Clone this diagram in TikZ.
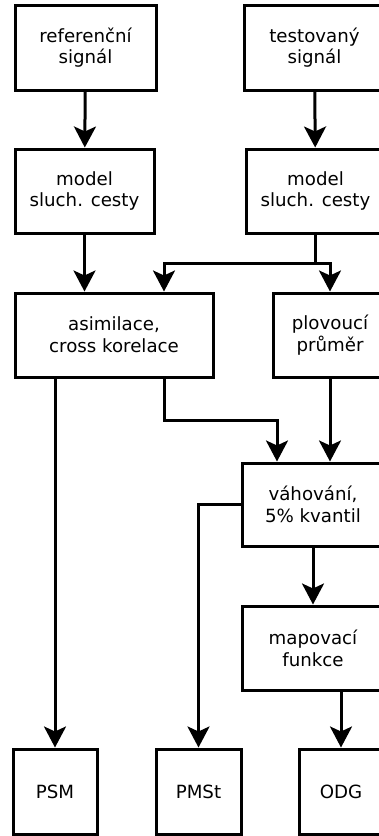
\documentclass[tikz,border=0pt]{standalone}
\usepackage{fontspec}
\setmainfont{DejaVu Sans}
\usepackage{tikz}
\usetikzlibrary{arrows.meta,positioning,calc}
\tikzset{
  block/.style={draw=black,line width=3pt,fill=white,
    minimum height=84pt,align=center,inner sep=0pt,
    font=\fontsize{18.2}{21.7}\selectfont},
  outblock/.style={block,minimum width=84pt,minimum height=85pt},
  flowarrow/.style={-{Stealth[length=21pt,width=22pt,inset=5pt]},line width=3pt,draw=black}
}
\begin{document}
\begin{tikzpicture}[x=1pt,y=-1pt]
\useasboundingbox (0,0) rectangle (378,836);
% inputs
\node[block,minimum width=141pt,minimum height=85pt] (ref) at (85.5,47.5) {referenční\\signál};
\node[block,minimum width=141pt,minimum height=85pt] (test) at (314.5,47.5) {testovaný\\signál};
% ear models
\node[block,minimum width=139pt] (model1) at (84.5,191) {model\\sluch. cesty};
\node[block,minimum width=139pt] (model2) at (315.5,191) {model\\sluch. cesty};
% processing
\node[block,minimum width=198pt] (asim) at (114,335) {asimilace,\\cross korelace};
\node[block,minimum width=114pt] (plov) at (330,335) {plovoucí\\průměr};
\node[block,minimum width=142pt,minimum height=83pt] (vah) at (313,504.5) {váhování,\\5\% kvantil};
\node[block,minimum width=142pt] (map) at (313,648) {mapovací\\funkce};
% outputs
\node[outblock] (psm) at (55,791.5) {PSM};
\node[outblock,minimum width=85pt] (pmst) at (198.5,791.5) {PMSt};
\node[outblock] (odg) at (341,791.5) {ODG};
\coordinate (split) at (315.5,263);
\coordinate (bend) at (164,420);
\draw[flowarrow] (ref) -- (model1);
\draw[flowarrow] (test) -- (model2);
\draw[flowarrow] (model1.south) -- (model1.south |- asim.north);
\draw[flowarrow] (model2.south) -- (split) -| ([xshift=50pt]asim.north);
\draw[flowarrow] (split) -| (plov.north);
\draw[flowarrow] (asim.south -| psm.north) -- (psm.north);
\draw[flowarrow] ([xshift=50pt]asim.south) -- (bend) -| ([xshift=-36pt]vah.north);
\draw[flowarrow] (plov.south) -- (plov.south |- vah.north);
\draw[flowarrow] (vah.west) -| (pmst.north);
\draw[flowarrow] (vah) -- (map);
\draw[flowarrow] (map.south -| odg.north) -- (odg.north);
\end{tikzpicture}
\end{document}
